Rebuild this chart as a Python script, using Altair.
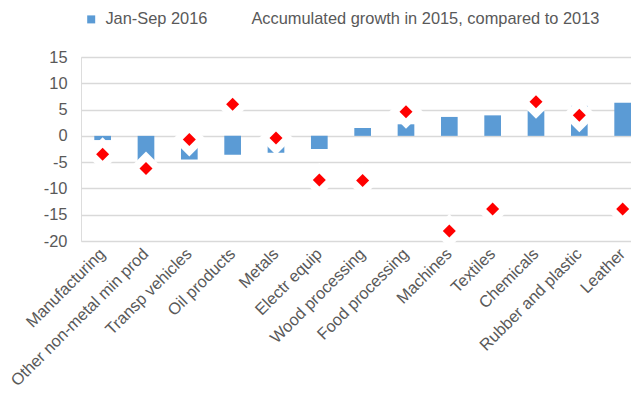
import altair as alt
import pandas as pd

categories = ["Manufacturing", "Other non-metal min prod", "Transp vehicles", "Oil products",
              "Metals", "Electr equip", "Wood processing", "Food processing", "Machines",
              "Textiles", "Chemicals", "Rubber and plastic", "Leather"]
jan_sep_2016 = [-0.8, -5.0, -4.5, -3.6, -3.2, -2.5, 1.5, 2.2, 3.6, 3.9, 4.7, 5.7, 6.3]
growth_2015_vs_2013 = [-3.5, -6.2, -0.7, 6.0, -0.4, -8.4, -8.5, 4.6, -18.1, -13.9, 6.5, 3.9, -13.9]
series_names = ["Jan-Sep 2016", "Accumulated growth in 2015, compared to 2013"]
y_ticks = [-20, -15, -10, -5, 0, 5, 10, 15]

df = pd.DataFrame({
    "category": categories,
    "jan": jan_sep_2016,
    "acc": growth_2015_vs_2013,
    "series": series_names[0],
})

GRAY = "#595959"
FS = 16.4

xscale = alt.Scale(paddingInner=0.615, paddingOuter=0.1535, align=1)
xaxis = alt.Axis(title=None, labelAngle=-45, labelAlign="right", labelBaseline="middle",
                 labelPadding=10, labelFontSize=FS, labelColor=GRAY, labelLimit=400,
                 domain=False, ticks=False, grid=False, labelOverlap=False)

yscale = alt.Scale(domain=[-20, 15], nice=False, zero=False)
yaxis = alt.Axis(title=None, values=y_ticks, labelFontSize=FS, labelColor=GRAY,
                 labelPadding=14, domain=False, ticks=False, labelOverlap=False,
                 labelExpr="'' + datum.value",
                 gridColor="#d9d9d9", gridWidth=1.3)

xenc = alt.X("category:N", sort=categories, scale=xscale, axis=xaxis)

base = alt.Chart(df)

bars = base.mark_bar().encode(
    x=xenc,
    y=alt.Y("jan:Q", scale=yscale, axis=yaxis),
    color=alt.Color("series:N",
                    scale=alt.Scale(domain=series_names, range=["#5B9BD5", "#ffffff"]),
                    legend=alt.Legend(title=None, orient="none", legendX=2, legendY=-46,
                                      direction="horizontal", symbolType="square",
                                      symbolSize=64, labelFontSize=FS, labelColor=GRAY,
                                      labelLimit=500, columnPadding=21, labelOffset=6,
                                      padding=0)),
)

halo = base.mark_point(shape="diamond", filled=True, fill="#ffffff", opacity=1,
                       strokeWidth=0).encode(
    x=xenc,
    y=alt.Y("acc:Q", scale=yscale, axis=yaxis),
    size=alt.value(1156),
)

diamonds = base.mark_point(shape="diamond", filled=True, fill="#ff0000", opacity=1,
                           strokeWidth=0).encode(
    x=xenc,
    y=alt.Y("acc:Q", scale=yscale, axis=yaxis),
    size=alt.value(169),
)

chart = alt.layer(bars, halo, diamonds).properties(
    width=550, height=184,
    autosize=alt.AutoSizeParams(type="none"),
    padding={"left": 73, "top": 49, "right": 0, "bottom": 150},
).configure_view(strokeWidth=0, stroke="transparent").configure(font="Liberation Sans")

chart.save("out.html", embed_options={"renderer": "svg", "actions": False})
